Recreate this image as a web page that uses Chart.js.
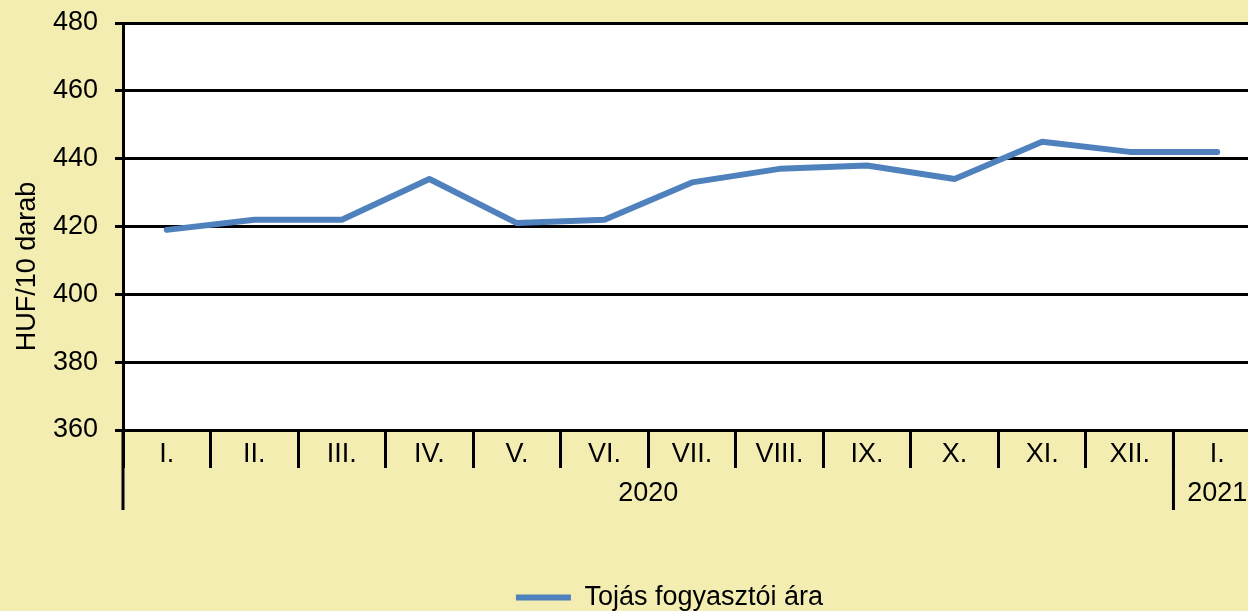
<!DOCTYPE html>
<html>
<head>
<meta charset="utf-8">
<script src="https://cdn.jsdelivr.net/npm/chart.js@4"></script>
<style>
    html, body { margin: 0; padding: 0; background: #F3EDB1; overflow: hidden; }
    #wrap { width: 1261px; height: 611px; }
</style>
</head>
<body>
<div id="wrap"><canvas id="chart"></canvas></div>
<script>
const months = ['I.', 'II.', 'III.', 'IV.', 'V.', 'VI.', 'VII.', 'VIII.', 'IX.', 'X.', 'XI.', 'XII.', 'I.']
const years = [
    {label: '2020', from: 0, to: 11},
    {label: '2021', from: 12, to: 12}
]
const prices = [419, 422, 422, 434, 421, 422, 433, 437, 438, 434, 445, 442, 442]
const seriesName = 'Tojás fogyasztói ára'
const yTitle = 'HUF/10 darab'

const FONT = '"Liberation Sans", Arial, sans-serif'
const FS = 27
const BG = '#F3EDB1'

// háttér + fehér rajzterület
const background = {
    id: 'background',
    beforeDraw(chart) {
        const {ctx, chartArea: a} = chart
        ctx.save()
        ctx.fillStyle = BG
        ctx.fillRect(0, 0, chart.width, chart.height)
        ctx.fillStyle = '#fff'
        ctx.fillRect(a.left, a.top, a.right - a.left, a.bottom - a.top)
        ctx.restore()
    }
}

// a jelmagyarázat kicsit jobbra áll az eredetin
const legendShift = {
    id: 'legendShift',
    afterLayout(chart) {
        chart.legend.left += 39
        chart.legend.right += 39
    }
}

// évek sora, elválasztók és a tengelycím
const extras = {
    id: 'extras',
    afterDraw(chart) {
        const {ctx, chartArea: a} = chart
        const x = chart.scales.x
        const step = (x.right - x.left) / months.length
        ctx.save()
        ctx.strokeStyle = '#000'
        ctx.lineWidth = 3
        ctx.fillStyle = '#000'
        ctx.font = FS + 'px ' + FONT
        ctx.textAlign = 'center'
        ctx.textBaseline = 'middle'
        years.forEach(y => {
            const l = x.left + y.from * step
            const r = x.left + (y.to + 1) * step
            ctx.beginPath()
            ctx.moveTo(l, a.bottom)
            ctx.lineTo(l, a.bottom + 80)
            ctx.stroke()
            ctx.fillText(y.label, (l + r) / 2, a.bottom + 64)
        })
        ctx.translate(28, (a.top + a.bottom + 80) / 2)
        ctx.rotate(-Math.PI / 2)
        ctx.fillText(yTitle, 0, 0)
        ctx.restore()
    }
}

new Chart(document.getElementById('chart'), {
    type: 'line',
    data: {
        labels: months,
        datasets: [{
            label: seriesName,
            data: prices,
            borderColor: '#4F81BD',
            backgroundColor: '#4F81BD',
            borderWidth: 6,
            borderCapStyle: 'round',
            borderJoinStyle: 'round',
            pointRadius: 0,
            tension: 0
        }]
    },
    options: {
        responsive: true,
        maintainAspectRatio: false,
        animation: false,
        layout: {padding: {top: 23, left: 0, right: 0, bottom: -10}},
        plugins: {
            tooltip: {enabled: false},
            legend: {
                position: 'bottom',
                labels: {
                    usePointStyle: true,
                    pointStyle: 'line',
                    pointStyleWidth: 55,
                    padding: 2,
                    color: '#000',
                    font: {family: FONT, size: FS}
                }
            }
        },
        scales: {
            x: {
                offset: true,
                afterFit: s => { s.height = 152; s.paddingLeft = 0; s.paddingRight = 0 },
                grid: {
                    offset: true,
                    drawOnChartArea: false,
                    tickLength: 38,
                    color: '#000',
                    lineWidth: 3
                },
                border: {display: true, color: '#000', width: 3},
                ticks: {
                    color: '#000',
                    padding: -30,
                    maxRotation: 0,
                    font: {family: FONT, size: FS}
                }
            },
            y: {
                min: 360,
                max: 480,
                afterFit: s => { s.width = 123; s.paddingTop = 0; s.paddingBottom = 0 },
                grid: {color: '#000', lineWidth: 3, tickLength: 8},
                border: {display: true, color: '#000', width: 3},
                ticks: {
                    stepSize: 20,
                    color: '#000',
                    padding: 17,
                    font: {family: FONT, size: FS}
                }
            }
        }
    },
    plugins: [background, legendShift, extras]
})
</script>
</body>
</html>
